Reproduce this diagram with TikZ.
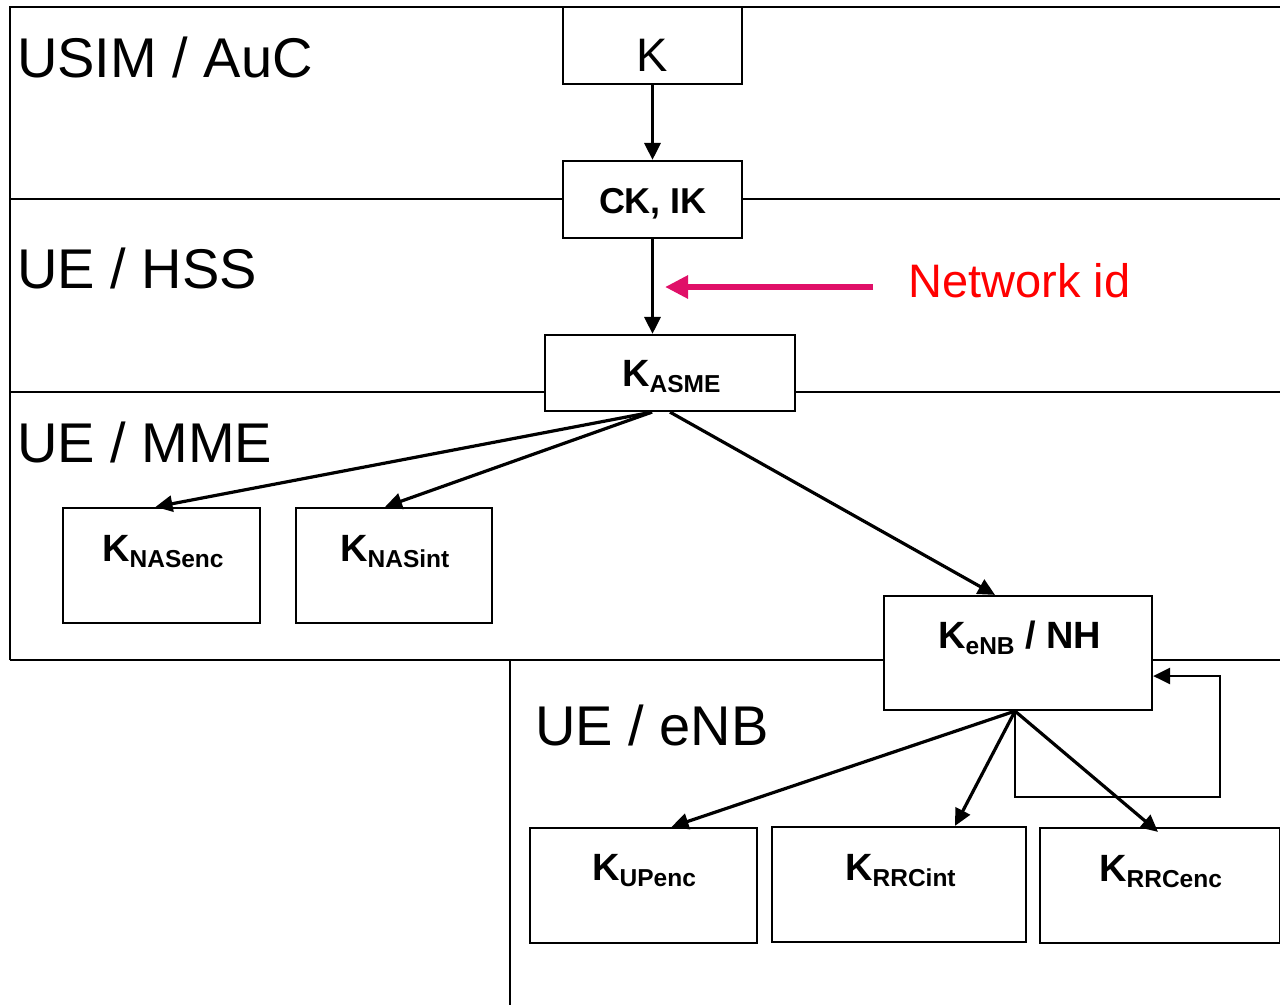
\documentclass[tikz,border=0pt]{standalone}
\usepackage{fontspec}
\setmainfont{Liberation Sans}
\usetikzlibrary{arrows.meta,calc}
\definecolor{netpink}{RGB}{224,16,104}
\definecolor{netred}{RGB}{255,0,0}
\newcommand\keyname[2]{\fontsize{38}{38}\selectfont\bfseries K\raisebox{-6pt}{\fontsize{24.5}{25}\selectfont #1}#2}
\begin{document}
\begin{tikzpicture}[x=1pt,y=-1pt,
  keybox/.style={draw,line width=2.2pt,inner sep=0pt,minimum width=#1,fill=white},
  keytext/.style={anchor=base west,inner sep=0pt},
  zone/.style={anchor=base west,inner sep=0pt,font=\fontsize{56}{56}\selectfont},
  frame/.style={line width=2.2pt},
  arr/.style={line width=3.2pt,-{Triangle[length=17pt,width=16pt]}},
  netarr/.style={line width=6pt,color=netpink,-{Triangle[length=23pt,width=22pt]}}]
\useasboundingbox (0,0) rectangle (1280,1005);

% layer frame
\draw[frame] (10,660) -- (10,7) -- (1280,7);
\draw[frame] (10,199) -- (563,199);
\draw[frame] (742,199) -- (1280,199);
\draw[frame] (10,392) -- (545,392);
\draw[frame] (795,392) -- (1280,392);
\draw[frame] (10,660) -- (884,660);
\draw[frame] (1152,660) -- (1280,660);
\draw[frame] (510,660) -- (510,1005);

% key boxes
\node[keybox=179pt,minimum height=77pt] (k)      at (652.5,45.5)  {};
\node[keybox=179pt,minimum height=77pt] (ckik)   at (652.5,199.5) {};
\node[keybox=250pt,minimum height=76pt] (kasme)  at (670,373)     {};
\node[keybox=197pt,minimum height=115pt] (nasenc) at (161.5,565.5) {};
\node[keybox=196pt,minimum height=115pt] (nasint) at (394,565.5)   {};
\node[keybox=268pt,minimum height=114pt] (kenb)   at (1018,653)    {};
\node[keybox=227pt,minimum height=115pt] (upenc)  at (643.5,885.5) {};
\node[keybox=254pt,minimum height=115pt] (rrcint) at (899,884.5)   {};
\node[keybox=240pt,minimum height=115pt] (rrcenc) at (1160,885.5)  {};

% box texts
\node[anchor=base,inner sep=0pt,font=\fontsize{47}{47}\selectfont] (tk) at (652.5,71) {K};
\node[anchor=base,inner sep=0pt,font=\fontsize{36}{36}\selectfont\bfseries] (tckik) at (653,213) {CK, IK};
\node[keytext] (tkasme)  at (622,386)  {\keyname{ASME}{}};
\node[keytext] (tnasenc) at (102,561)  {\keyname{NASenc}{}};
\node[keytext] (tnasint) at (340,561)  {\keyname{NASint}{}};
\node[keytext] (tkenb)   at (938,648)  {\keyname{eNB}{ / NH}};
\node[keytext] (tupenc)  at (592,880)  {\keyname{UPenc}{}};
\node[keytext] (trrcint) at (845,880)  {\keyname{RRCint}{}};
\node[keytext] (trrcenc) at (1099,881) {\keyname{RRCenc}{}};

% zone labels
\node[zone] (zusim) at (17,77)  {USIM / AuC};
\node[zone] (zhss)  at (17,288) {UE / HSS};
\node[zone] (zmme)  at (17,462) {UE / MME};
\node[zone] (zenb)  at (535,745) {UE / eNB};

% network id input
\node[anchor=base west,inner sep=0pt,text=netred,font=\fontsize{47}{47}\selectfont] (netid) at (908,297) {Network id};
\coordinate (netfrom) at (873,287);
\coordinate (netto) at (665,287);
\draw[netarr] (netfrom) -- (netto);

% derivation arrows
\draw[arr] (k.south) -- (ckik.north);
\draw[arr] (ckik.south) -- (ckik.south |- kasme.north);

\coordinate (asmeL) at ($(kasme.south)+(-18,0)$);
\draw[arr] (asmeL) -- ($(nasenc.north)+(-6,0)$);
\draw[arr] (asmeL) -- ($(nasint.north)+(-9,0)$);
\draw[arr] (kasme.south) -- ($(kenb.north)+(-23,0)$);

\coordinate (enbsrc) at ($(kenb.south)+(-3,0)$);
\draw[arr] (enbsrc) -- ($(upenc.north)+(28,0)$);
\draw[arr] (enbsrc) -- ($(rrcint.north)+(56,0)$);
\draw[arr] (enbsrc) -- ($(rrcenc.north)+(-2,5)$);

% NH chaining loop
\coordinate (loopA) at (1015,797);
\coordinate (loopB) at (1220,797);
\coordinate (loopC) at (1220,676);
\draw[arr,line width=2.6pt] (enbsrc) -- (loopA) -- (loopB) -- (loopC) -- (kenb.east |- loopC);
\end{tikzpicture}
\end{document}
